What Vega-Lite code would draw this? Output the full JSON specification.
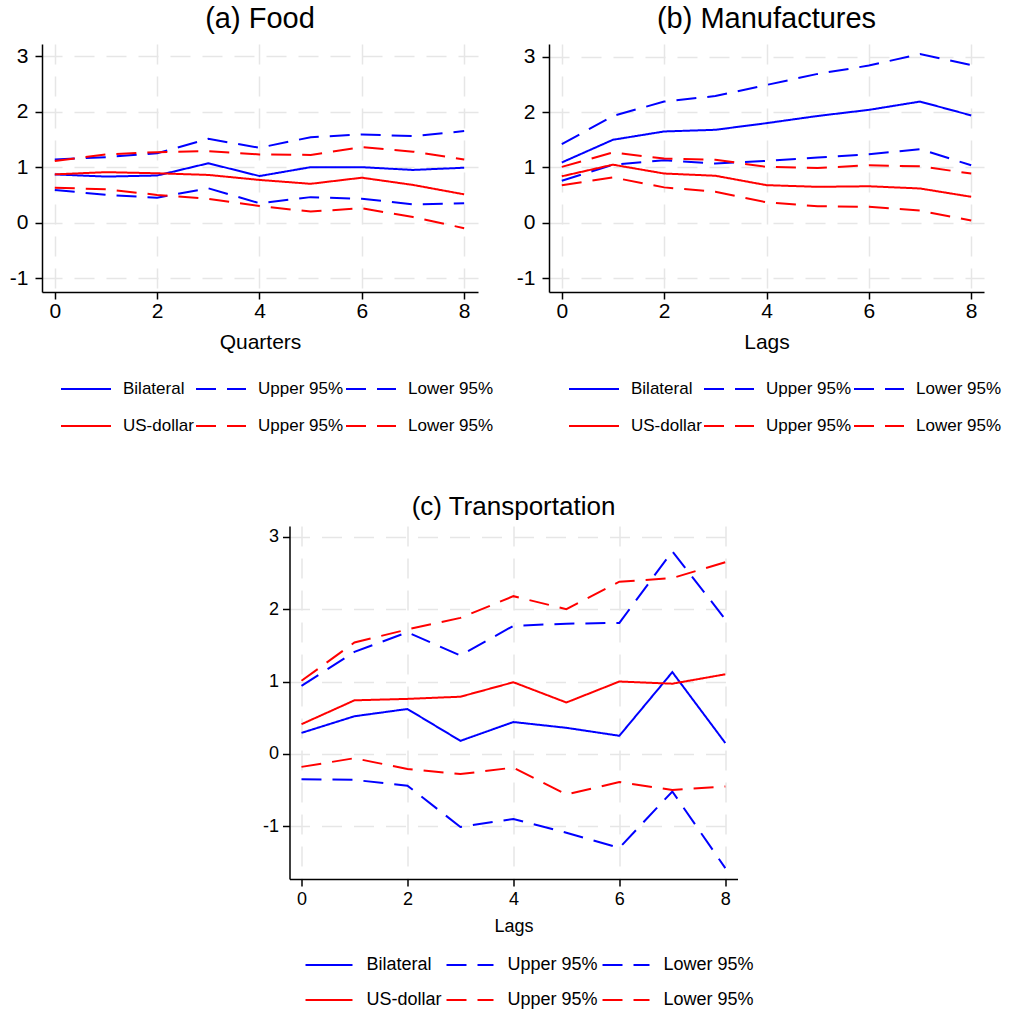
{
  "$schema": "https://vega.github.io/schema/vega-lite/v6.json",
  "background": "white",
  "padding": {"left": 9, "top": 5, "right": 0, "bottom": 0},
  "config": {
    "font": "Liberation Sans",
    "view": {"stroke": null},
    "axis": {
      "domainColor": "black", "domainWidth": 1.5, "tickColor": "black", "tickWidth": 1.5, "tickSize": 7,
      "labelColor": "black", "titleColor": "black", "titleFontWeight": "normal",
      "grid": true, "gridColor": "#e6e6e6", "gridWidth": 1.5, "gridDash": [20, 12]
    },
    "axisY": {"labelExpr": "datum.value<0?'-'+(-datum.value):''+datum.value"},
    "title": {"fontWeight": "normal", "color": "black", "anchor": "middle"},
    "legend": {"labelColor": "black"}
  },
  "datasets": {
    "food": [
      {"lag": 0, "Bilateral": 0.87, "Bilateral Upper": 1.14, "Bilateral Lower": 0.59, "US-dollar": 0.87, "US-dollar Upper": 1.11, "US-dollar Lower": 0.63},
      {"lag": 1, "Bilateral": 0.83, "Bilateral Upper": 1.18, "Bilateral Lower": 0.50, "US-dollar": 0.91, "US-dollar Upper": 1.23, "US-dollar Lower": 0.60},
      {"lag": 2, "Bilateral": 0.85, "Bilateral Upper": 1.25, "Bilateral Lower": 0.45, "US-dollar": 0.89, "US-dollar Upper": 1.27, "US-dollar Lower": 0.50},
      {"lag": 3, "Bilateral": 1.07, "Bilateral Upper": 1.51, "Bilateral Lower": 0.62, "US-dollar": 0.86, "US-dollar Upper": 1.29, "US-dollar Lower": 0.43},
      {"lag": 4, "Bilateral": 0.84, "Bilateral Upper": 1.35, "Bilateral Lower": 0.35, "US-dollar": 0.77, "US-dollar Upper": 1.23, "US-dollar Lower": 0.30},
      {"lag": 5, "Bilateral": 1.00, "Bilateral Upper": 1.54, "Bilateral Lower": 0.46, "US-dollar": 0.70, "US-dollar Upper": 1.22, "US-dollar Lower": 0.20},
      {"lag": 6, "Bilateral": 1.00, "Bilateral Upper": 1.59, "Bilateral Lower": 0.43, "US-dollar": 0.81, "US-dollar Upper": 1.36, "US-dollar Lower": 0.26},
      {"lag": 7, "Bilateral": 0.95, "Bilateral Upper": 1.56, "Bilateral Lower": 0.33, "US-dollar": 0.68, "US-dollar Upper": 1.28, "US-dollar Lower": 0.10},
      {"lag": 8, "Bilateral": 0.99, "Bilateral Upper": 1.65, "Bilateral Lower": 0.35, "US-dollar": 0.51, "US-dollar Upper": 1.14, "US-dollar Lower": -0.10}
    ],
    "manufactures": [
      {"lag": 0, "Bilateral": 1.09, "Bilateral Upper": 1.42, "Bilateral Lower": 0.76, "US-dollar": 0.84, "US-dollar Upper": 1.01, "US-dollar Lower": 0.68},
      {"lag": 1, "Bilateral": 1.50, "Bilateral Upper": 1.93, "Bilateral Lower": 1.05, "US-dollar": 1.05, "US-dollar Upper": 1.27, "US-dollar Lower": 0.82},
      {"lag": 2, "Bilateral": 1.65, "Bilateral Upper": 2.19, "Bilateral Lower": 1.13, "US-dollar": 0.89, "US-dollar Upper": 1.16, "US-dollar Lower": 0.64},
      {"lag": 3, "Bilateral": 1.68, "Bilateral Upper": 2.29, "Bilateral Lower": 1.07, "US-dollar": 0.85, "US-dollar Upper": 1.14, "US-dollar Lower": 0.56},
      {"lag": 4, "Bilateral": 1.80, "Bilateral Upper": 2.49, "Bilateral Lower": 1.12, "US-dollar": 0.68, "US-dollar Upper": 1.01, "US-dollar Lower": 0.37},
      {"lag": 5, "Bilateral": 1.93, "Bilateral Upper": 2.69, "Bilateral Lower": 1.18, "US-dollar": 0.65, "US-dollar Upper": 0.99, "US-dollar Lower": 0.30},
      {"lag": 6, "Bilateral": 2.04, "Bilateral Upper": 2.84, "Bilateral Lower": 1.24, "US-dollar": 0.66, "US-dollar Upper": 1.04, "US-dollar Lower": 0.29},
      {"lag": 7, "Bilateral": 2.19, "Bilateral Upper": 3.05, "Bilateral Lower": 1.33, "US-dollar": 0.62, "US-dollar Upper": 1.02, "US-dollar Lower": 0.22},
      {"lag": 8, "Bilateral": 1.94, "Bilateral Upper": 2.85, "Bilateral Lower": 1.04, "US-dollar": 0.47, "US-dollar Upper": 0.89, "US-dollar Lower": 0.04}
    ],
    "transportation": [
      {"lag": 0, "Bilateral": 0.29, "Bilateral Upper": 0.94, "Bilateral Lower": -0.35, "US-dollar": 0.41, "US-dollar Upper": 1.01, "US-dollar Lower": -0.18},
      {"lag": 1, "Bilateral": 0.52, "Bilateral Upper": 1.41, "Bilateral Lower": -0.36, "US-dollar": 0.74, "US-dollar Upper": 1.54, "US-dollar Lower": -0.06},
      {"lag": 2, "Bilateral": 0.62, "Bilateral Upper": 1.68, "Bilateral Lower": -0.44, "US-dollar": 0.76, "US-dollar Upper": 1.72, "US-dollar Lower": -0.21},
      {"lag": 3, "Bilateral": 0.18, "Bilateral Upper": 1.36, "Bilateral Lower": -1.01, "US-dollar": 0.79, "US-dollar Upper": 1.88, "US-dollar Lower": -0.28},
      {"lag": 4, "Bilateral": 0.44, "Bilateral Upper": 1.77, "Bilateral Lower": -0.90, "US-dollar": 0.99, "US-dollar Upper": 2.18, "US-dollar Lower": -0.19},
      {"lag": 5, "Bilateral": 0.36, "Bilateral Upper": 1.80, "Bilateral Lower": -1.09, "US-dollar": 0.71, "US-dollar Upper": 2.00, "US-dollar Lower": -0.56},
      {"lag": 6, "Bilateral": 0.25, "Bilateral Upper": 1.81, "Bilateral Lower": -1.30, "US-dollar": 1.00, "US-dollar Upper": 2.38, "US-dollar Lower": -0.39},
      {"lag": 7, "Bilateral": 1.13, "Bilateral Upper": 2.80, "Bilateral Lower": -0.52, "US-dollar": 0.97, "US-dollar Upper": 2.43, "US-dollar Lower": -0.50},
      {"lag": 8, "Bilateral": 0.15, "Bilateral Upper": 1.86, "Bilateral Lower": -1.58, "US-dollar": 1.10, "US-dollar Upper": 2.65, "US-dollar Lower": -0.45}
    ]
  },
  "resolve": {
    "scale": {"x": "independent", "y": "independent", "color": "independent", "strokeDash": "independent"},
    "legend": {"color": "independent", "strokeDash": "independent"}
  },
  "spacing": 59,
  "center": true,
  "vconcat": [
    {
      "spacing": 22,
      "resolve": {
        "scale": {"x": "independent", "y": "independent", "color": "independent", "strokeDash": "independent"},
        "legend": {"color": "independent", "strokeDash": "independent"}
      },
      "hconcat": [
        {
          "width": 436, "height": 248,
          "title": {"text": "(a) Food", "fontSize": 29, "offset": 10},
          "data": {"name": "food"},
          "transform": [{"fold": ["Bilateral", "Bilateral Upper", "Bilateral Lower", "US-dollar", "US-dollar Upper", "US-dollar Lower"], "as": ["series", "value"]}],
          "mark": {"type": "line", "strokeWidth": 2},
          "encoding": {
            "x": {"field": "lag", "type": "quantitative", "scale": {"domain": [-0.25, 8.27], "nice": false, "zero": false},
                  "axis": {"values": [0, 2, 4, 6, 8], "title": "Quarters", "labelFontSize": 21, "titleFontSize": 21, "labelPadding": 1, "titlePadding": 10}},
            "y": {"field": "value", "type": "quantitative", "scale": {"domain": [-1.25, 3.22], "nice": false, "zero": false},
                  "axis": {"values": [-1, 0, 1, 2, 3], "title": null, "labelFontSize": 21, "labelPadding": 7}},
            "color": {"field": "series", "type": "nominal",
                      "scale": {"domain": ["Bilateral", "Bilateral Upper", "Bilateral Lower", "US-dollar", "US-dollar Upper", "US-dollar Lower"], "range": ["#0000ff", "#0000ff", "#0000ff", "#ff0000", "#ff0000", "#ff0000"]},
                      "legend": {"title": null, "orient": "none", "legendX": 18, "legendY": 336, "direction": "horizontal", "columns": 3, "columnPadding": 1, "rowPadding": 19, "clipHeight": 18, "symbolSize": 2500, "symbolStrokeWidth": 2, "labelOffset": 11, "labelFontSize": 17, "labelLimit": 200,
                                 "labelExpr": "(datum.value=='Bilateral Upper'||datum.value=='US-dollar Upper')?'Upper 95%':((datum.value=='Bilateral Lower'||datum.value=='US-dollar Lower')?'Lower 95%':datum.label)"}},
            "strokeDash": {"field": "series", "type": "nominal",
                      "scale": {"domain": ["Bilateral", "Bilateral Upper", "Bilateral Lower", "US-dollar", "US-dollar Upper", "US-dollar Lower"], "range": [[1, 0], [20, 11], [20, 11], [1, 0], [20, 11], [20, 11]]},
                      "legend": {"title": null, "orient": "none", "legendX": 18, "legendY": 336, "direction": "horizontal", "columns": 3, "columnPadding": 1, "rowPadding": 19, "clipHeight": 18, "symbolSize": 2500, "symbolStrokeWidth": 2, "labelOffset": 11, "labelFontSize": 17, "labelLimit": 200,
                                 "labelExpr": "(datum.value=='Bilateral Upper'||datum.value=='US-dollar Upper')?'Upper 95%':((datum.value=='Bilateral Lower'||datum.value=='US-dollar Lower')?'Lower 95%':datum.label)"}}
          }
        },
        {
          "width": 435, "height": 248,
          "title": {"text": "(b) Manufactures", "fontSize": 29, "offset": 10},
          "data": {"name": "manufactures"},
          "transform": [{"fold": ["Bilateral", "Bilateral Upper", "Bilateral Lower", "US-dollar", "US-dollar Upper", "US-dollar Lower"], "as": ["series", "value"]}],
          "mark": {"type": "line", "strokeWidth": 2},
          "encoding": {
            "x": {"field": "lag", "type": "quantitative", "scale": {"domain": [-0.25, 8.25], "nice": false, "zero": false},
                  "axis": {"values": [0, 2, 4, 6, 8], "title": "Lags", "labelFontSize": 21, "titleFontSize": 21, "labelPadding": 1, "titlePadding": 10}},
            "y": {"field": "value", "type": "quantitative", "scale": {"domain": [-1.25, 3.23], "nice": false, "zero": false},
                  "axis": {"values": [-1, 0, 1, 2, 3], "title": null, "labelFontSize": 21, "labelPadding": 7}},
            "color": {"field": "series", "type": "nominal",
                      "scale": {"domain": ["Bilateral", "Bilateral Upper", "Bilateral Lower", "US-dollar", "US-dollar Upper", "US-dollar Lower"], "range": ["#0000ff", "#0000ff", "#0000ff", "#ff0000", "#ff0000", "#ff0000"]},
                      "legend": {"title": null, "orient": "none", "legendX": 19, "legendY": 336, "direction": "horizontal", "columns": 3, "columnPadding": 1, "rowPadding": 19, "clipHeight": 18, "symbolSize": 2500, "symbolStrokeWidth": 2, "labelOffset": 11, "labelFontSize": 17, "labelLimit": 200,
                                 "labelExpr": "(datum.value=='Bilateral Upper'||datum.value=='US-dollar Upper')?'Upper 95%':((datum.value=='Bilateral Lower'||datum.value=='US-dollar Lower')?'Lower 95%':datum.label)"}},
            "strokeDash": {"field": "series", "type": "nominal",
                      "scale": {"domain": ["Bilateral", "Bilateral Upper", "Bilateral Lower", "US-dollar", "US-dollar Upper", "US-dollar Lower"], "range": [[1, 0], [20, 11], [20, 11], [1, 0], [20, 11], [20, 11]]},
                      "legend": {"title": null, "orient": "none", "legendX": 19, "legendY": 336, "direction": "horizontal", "columns": 3, "columnPadding": 1, "rowPadding": 19, "clipHeight": 18, "symbolSize": 2500, "symbolStrokeWidth": 2, "labelOffset": 11, "labelFontSize": 17, "labelLimit": 200,
                                 "labelExpr": "(datum.value=='Bilateral Upper'||datum.value=='US-dollar Upper')?'Upper 95%':((datum.value=='Bilateral Lower'||datum.value=='US-dollar Lower')?'Lower 95%':datum.label)"}}
          }
        }
      ]
    },
    {
      "width": 448, "height": 353,
      "title": {"text": "(c) Transportation", "fontSize": 26, "offset": 6},
      "data": {"name": "transportation"},
      "transform": [{"fold": ["Bilateral", "Bilateral Upper", "Bilateral Lower", "US-dollar", "US-dollar Upper", "US-dollar Lower"], "as": ["series", "value"]}],
      "mark": {"type": "line", "strokeWidth": 2},
      "encoding": {
        "x": {"field": "lag", "type": "quantitative", "scale": {"domain": [-0.226, 8.23], "nice": false, "zero": false},
              "axis": {"values": [0, 2, 4, 6, 8], "title": "Lags", "labelFontSize": 18, "titleFontSize": 18, "labelPadding": 4, "titlePadding": 9}},
        "y": {"field": "value", "type": "quantitative", "scale": {"domain": [-1.73, 3.15], "nice": false, "zero": false},
              "axis": {"values": [-1, 0, 1, 2, 3], "title": null, "labelFontSize": 18, "labelPadding": 4}},
        "color": {"field": "series", "type": "nominal",
                  "scale": {"domain": ["Bilateral", "Bilateral Upper", "Bilateral Lower", "US-dollar", "US-dollar Upper", "US-dollar Lower"], "range": ["#0000ff", "#0000ff", "#0000ff", "#ff0000", "#ff0000", "#ff0000"]},
                  "legend": {"title": null, "orient": "none", "legendX": 15, "legendY": 430, "direction": "horizontal", "columns": 3, "columnPadding": 3, "rowPadding": 17, "clipHeight": 18, "symbolSize": 2209, "symbolStrokeWidth": 2, "labelOffset": 13, "labelFontSize": 18, "labelLimit": 200,
                             "labelExpr": "(datum.value=='Bilateral Upper'||datum.value=='US-dollar Upper')?'Upper 95%':((datum.value=='Bilateral Lower'||datum.value=='US-dollar Lower')?'Lower 95%':datum.label)"}},
        "strokeDash": {"field": "series", "type": "nominal",
                  "scale": {"domain": ["Bilateral", "Bilateral Upper", "Bilateral Lower", "US-dollar", "US-dollar Upper", "US-dollar Lower"], "range": [[1, 0], [20, 11], [20, 11], [1, 0], [20, 11], [20, 11]]},
                  "legend": {"title": null, "orient": "none", "legendX": 15, "legendY": 430, "direction": "horizontal", "columns": 3, "columnPadding": 3, "rowPadding": 17, "clipHeight": 18, "symbolSize": 2209, "symbolStrokeWidth": 2, "labelOffset": 13, "labelFontSize": 18, "labelLimit": 200,
                             "labelExpr": "(datum.value=='Bilateral Upper'||datum.value=='US-dollar Upper')?'Upper 95%':((datum.value=='Bilateral Lower'||datum.value=='US-dollar Lower')?'Lower 95%':datum.label)"}}
      }
    }
  ]
}
